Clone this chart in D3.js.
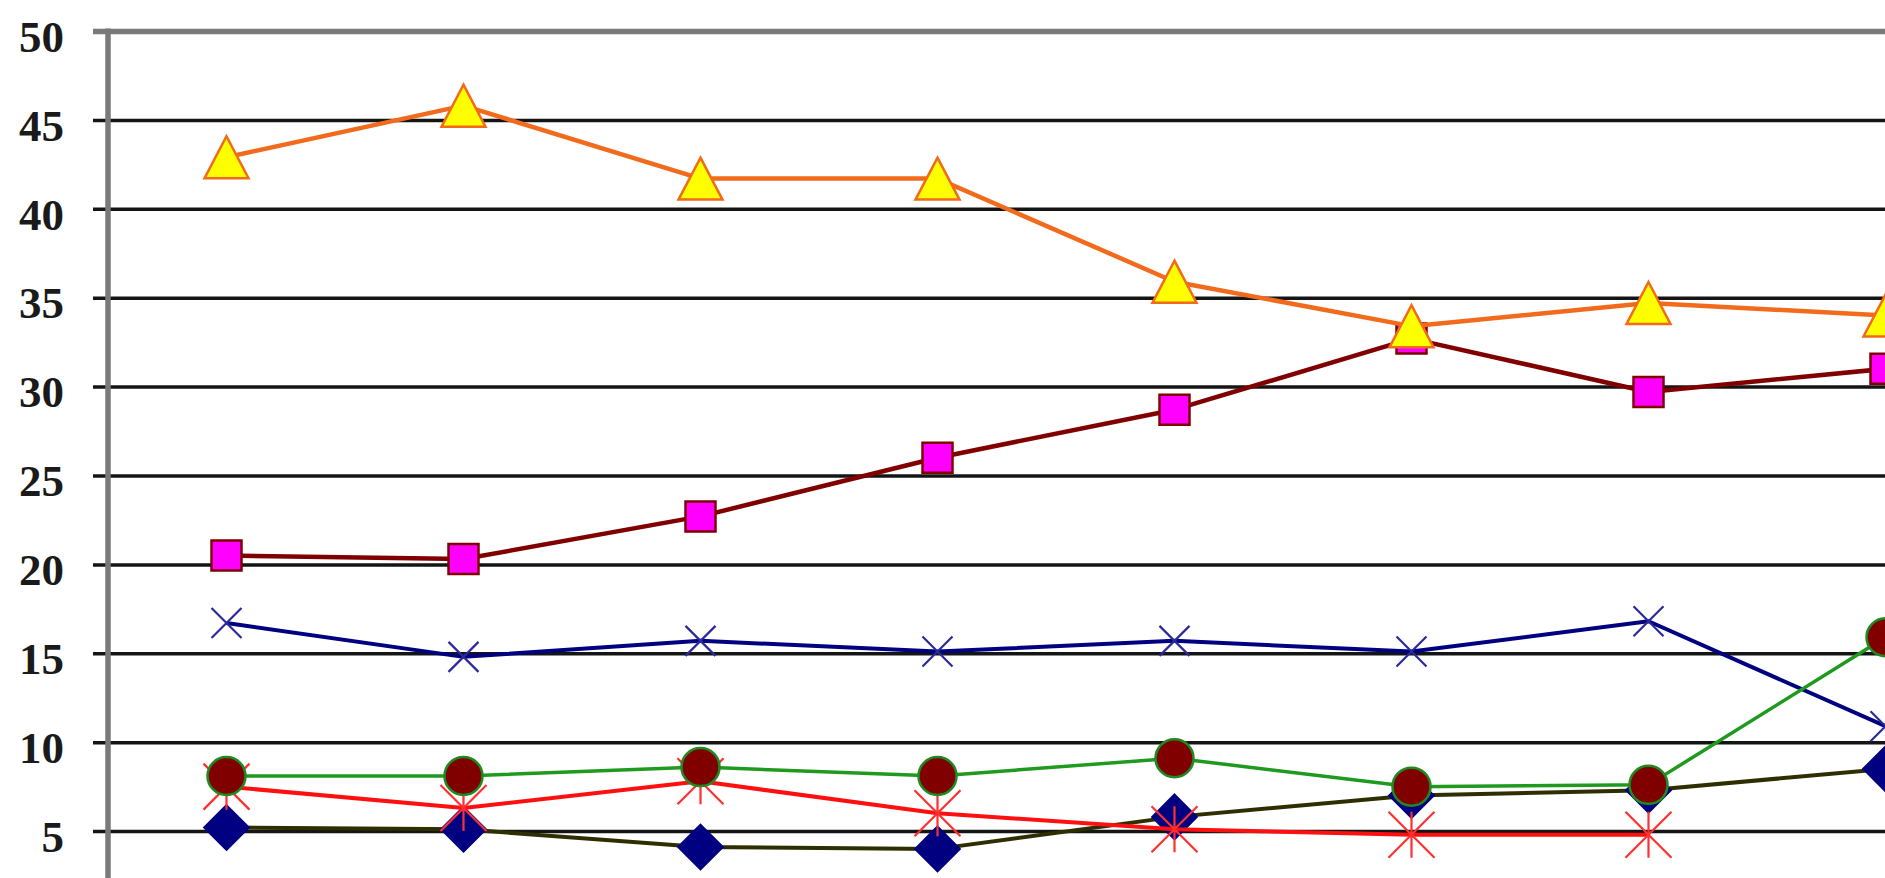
<!DOCTYPE html>
<html>
<head>
<meta charset="utf-8">
<script src="https://cdn.jsdelivr.net/npm/d3@7"></script>
<style>
  html, body { margin: 0; padding: 0; background: #ffffff; overflow: hidden; }
  svg { display: block; }
</style>
</head>
<body>
<svg id="chart" width="1885" height="878"></svg>
<script>
// ---- data (x-axis labels are cropped out of view) ----
const categories = ["1", "2", "3", "4", "5", "6", "7", "8"];
const yTicks = [5, 10, 15, 20, 25, 30, 35, 40, 45, 50];

const diamondValues  = [5.2, 5.1, 4.1, 4.0, 5.8, 7.0, 7.3, 8.5];
const squareValues   = [20.5, 20.3, 22.7, 26.0, 28.7, 32.7, 29.7, 31.0];
const triangleValues = [42.9, 45.8, 41.7, 41.7, 35.9, 33.4, 34.7, 34.0];
const crossValues    = [16.7, 14.8, 15.7, 15.1, 15.7, 15.1, 16.8, 10.9];
const starValues     = [7.5, 6.3, 7.8, 6.0, 5.1, 4.8, 4.8, null];
const circleValues   = [8.1, 8.1, 8.6, 8.1, 9.1, 7.5, 7.6, 15.9];

// ---- styles (kept apart from data) ----
const seriesStyles = [
  { values: diamondValues,  marker: "diamond",  line: "#2e2e00", lineWidth: 4,   fill: "#000080", stroke: "#000080" },
  { values: squareValues,   marker: "square",   line: "#800000", lineWidth: 4.5, fill: "#ff00ff", stroke: "#800000" },
  { values: triangleValues, marker: "triangle", line: "#f26a1b", lineWidth: 4.5, fill: "#ffff00", stroke: "#f26a1b" },
  { values: crossValues,    marker: "cross",    line: "#000080", lineWidth: 4,   fill: "none",    stroke: "#2a2a9a" },
  { values: starValues,     marker: "star",     line: "#ff1010", lineWidth: 4,   fill: "none",    stroke: "#ff3030" },
  { values: circleValues,   marker: "circle",   line: "#1f9a1f", lineWidth: 3.5, fill: "#800000", stroke: "#1f8a1f" }
];

const W = 1885, H = 878;
const axisX = 108;
const svg = d3.select("#chart");

const x = d3.scaleBand().domain(categories).range([axisX, axisX + 237 * categories.length]).paddingInner(0).paddingOuter(0);
const y = d3.scaleLinear().domain([0, 50]).range([920, 31]);
const cx = (i) => x(categories[i]) + x.bandwidth() / 2;

// ---- y axis with gridlines ----
const yAxis = d3.axisLeft(y).tickValues(yTicks).tickSize(15).tickPadding(29).tickFormat(d3.format("d"));
const gAxis = svg.append("g").attr("transform", `translate(${axisX},0)`).call(yAxis);
gAxis.select(".domain").remove();
gAxis.selectAll(".tick line")
  .attr("x1", W - axisX + 5)
  .attr("stroke", d => d === 50 ? "#7a7a7a" : "#151515")
  .attr("stroke-width", d => d === 50 ? 5.5 : 3.5);
gAxis.selectAll(".tick text")
  .attr("dy", "0.36em")
  .attr("y", 4)
  .attr("fill", "#1a1a1a")
  .style("font-family", "'Liberation Serif', 'Times New Roman', serif")
  .style("font-weight", "bold")
  .style("font-size", "45px");

// vertical axis line
svg.append("line")
  .attr("x1", axisX).attr("x2", axisX)
  .attr("y1", y(50) - 2.5).attr("y2", y(0))
  .attr("stroke", "#7a7a7a").attr("stroke-width", 5.5);

// ---- marker shapes ----
function markerPath(type) {
  const p = d3.path();
  if (type === "diamond") {
    const r = 22;
    p.moveTo(0, -r); p.lineTo(r, 0); p.lineTo(0, r); p.lineTo(-r, 0); p.closePath();
  } else if (type === "square") {
    const r = 15;
    p.rect(-r, -r, 2 * r, 2 * r);
  } else if (type === "triangle") {
    p.moveTo(0, -21); p.lineTo(22, 21); p.lineTo(-22, 21); p.closePath();
  } else if (type === "cross") {
    const r = 15;
    p.moveTo(-r, -r); p.lineTo(r, r); p.moveTo(r, -r); p.lineTo(-r, r);
  } else if (type === "star") {
    const r = 23;
    p.moveTo(-r, -r); p.lineTo(r, r); p.moveTo(r, -r); p.lineTo(-r, r);
    p.moveTo(0, -r); p.lineTo(0, r);
  } else if (type === "circle") {
    p.arc(0, 0, 19, 0, 2 * Math.PI);
  }
  return p.toString();
}

const line = d3.line()
  .defined(d => d != null)
  .x((d, i) => cx(i))
  .y(d => y(d));

seriesStyles.forEach(s => {
  const g = svg.append("g");
  g.append("path")
    .attr("d", line(s.values))
    .attr("fill", "none")
    .attr("stroke", s.line)
    .attr("stroke-width", s.lineWidth)
    .attr("stroke-linejoin", "round");
  const shape = markerPath(s.marker);
  g.selectAll("path.marker")
    .data(s.values.map((v, i) => ({ v, i })).filter(d => d.v != null))
    .join("path")
    .attr("class", "marker")
    .attr("transform", d => `translate(${cx(d.i)},${y(d.v)})`)
    .attr("d", shape)
    .attr("fill", s.fill)
    .attr("stroke", s.stroke)
    .attr("stroke-width", (s.marker === "cross" || s.marker === "star") ? 2.2 : 2.5);
});
</script>
</body>
</html>
